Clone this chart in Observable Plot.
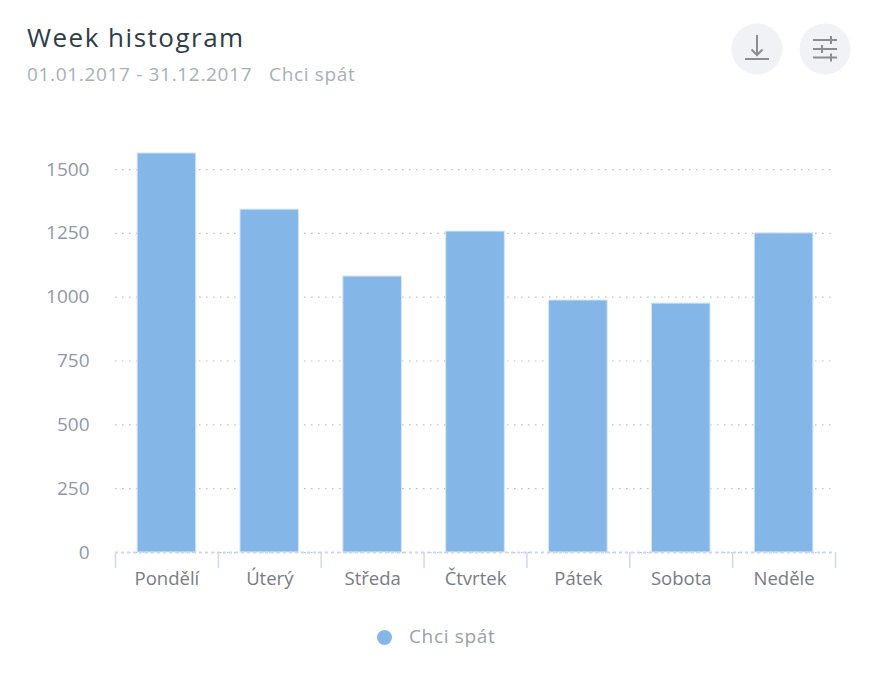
<!DOCTYPE html>
<html>
<head>
<meta charset="utf-8">
<script src="https://cdn.jsdelivr.net/npm/d3@7"></script>
<script src="https://cdn.jsdelivr.net/npm/@observablehq/plot@0.6"></script>
<style>
html,body{margin:0;padding:0;background:#fff;}
body{width:871px;height:687px;overflow:hidden;font-family:"Open Sans",sans-serif;position:relative;}
#head{height:120px;position:relative;}
#title{position:absolute;left:27px;top:19px;font-size:26px;line-height:36px;color:#2f3c47;letter-spacing:1.5px;white-space:nowrap;}
#sub{position:absolute;left:27px;top:61px;font-size:19px;line-height:26px;color:#a6afba;letter-spacing:.67px;white-space:pre;}
.btn{position:absolute;top:23px;width:52px;height:52px;}
#legend{position:absolute;left:377px;top:623px;display:flex;align-items:center;font-size:19px;line-height:26px;letter-spacing:.65px;color:#98a0ad;}
#legend i{display:block;width:15px;height:15px;border-radius:50%;background:#85b6e8;margin-right:17px;margin-top:3px;}
svg text{font-family:"Open Sans",sans-serif;}
</style>
</head>
<body>
<div id="head">
<div id="title">Week histogram</div>
<div id="sub">01.01.2017 - 31.12.2017   Chci spát</div>
<svg class="btn" style="left:731px" viewBox="0 0 52 52"><circle cx="26" cy="26" r="25.5" fill="#f1f2f6"/><path d="M26 12V32M20.500 26.500L26 32L31.500 26.500M14 36H38" fill="none" stroke="#8b8d92" stroke-width="2"/></svg>
<svg class="btn" style="left:799px" viewBox="0 0 52 52"><circle cx="26" cy="26" r="25.5" fill="#f1f2f6"/><path d="M14 17H38M14 26H38M14 34.500H38M32 13V21M23 22V30M32 30.500V38.500" fill="none" stroke="#8b8d92" stroke-width="2"/></svg>
</div>
<div id="chart"></div>
<div id="legend"><i></i><span>Chci spát</span></div>
<script>
const days = ["Pondělí","Úterý","Středa","Čtvrtek","Pátek","Sobota","Neděle"];
const counts = [1563,1343,1081,1257,987,975,1250];
const yTicks = [0,250,500,750,1000,1250,1500];
const rows = days.map((day,i)=>({day,count:counts[i]}));
const bandStep = 720/7;

const plot = Plot.plot({
  width:871,height:492,
  marginTop:23.5,marginBottom:60,marginLeft:115,marginRight:36,
  style:{background:"transparent",fontFamily:"Open Sans, sans-serif",overflow:"visible"},
  x:{domain:days,paddingInner:0.43,paddingOuter:0.215,align:0.5,round:false,label:null},
  y:{domain:[0,1600],label:null},
  marks:[
    Plot.gridY(yTicks,{stroke:"#b9bec8",strokeOpacity:1,strokeDasharray:"1.5 5.5",strokeWidth:1.2}),
    Plot.barY(rows,{x:"day",y:"count",fill:"#85b6e8",stroke:"#d6e6f8",strokeWidth:1}),
    Plot.ruleY([0],{stroke:"#c9d8ee",strokeWidth:2,strokeDasharray:"3 3"}),
    Plot.axisX({anchor:"bottom",tickSize:16,stroke:"#ccd9ee",strokeWidth:1.5,text:null,dx:-bandStep/2,label:null}),
    Plot.axisX(["Neděle"],{anchor:"bottom",tickSize:16,stroke:"#ccd9ee",strokeWidth:1.5,text:null,dx:bandStep/2,label:null}),
    Plot.axisX({anchor:"bottom",tickSize:0,tickPadding:19,fontSize:18.5,color:"#787c82",label:null}),
    Plot.axisY(yTicks,{anchor:"left",tickSize:0,tickPadding:26,fontSize:19,color:"#8f97aa",tickFormat:"d",label:null})
  ]
});
document.getElementById("chart").appendChild(plot);
</script>
</body>
</html>
